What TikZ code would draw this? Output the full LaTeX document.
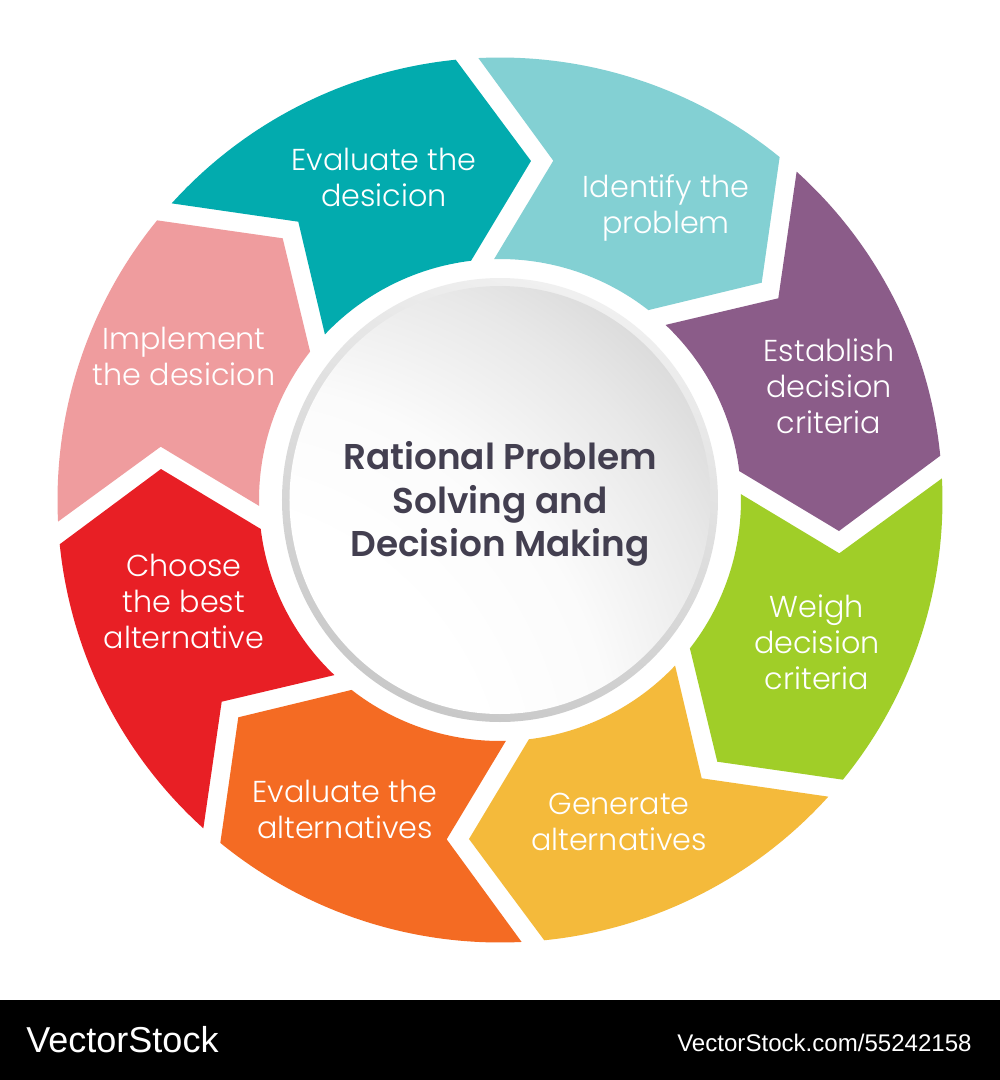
\documentclass[tikz,border=0pt]{standalone}
\usepackage{fontspec}
\setmainfont{Liberation Sans}
\newfontfamily\lightfont{Poppins Light}
\newfontfamily\titlefont{Poppins SemiBold}
\definecolor{tealseg}{HTML}{02ABAE}
\definecolor{paleseg}{HTML}{83D0D3}
\definecolor{purpleseg}{HTML}{8B5C89}
\definecolor{greenseg}{HTML}{A0CE28}
\definecolor{yellowseg}{HTML}{F4BA3B}
\definecolor{orangeseg}{HTML}{F46B23}
\definecolor{redseg}{HTML}{E81F25}
\definecolor{pinkseg}{HTML}{EF9C9E}
\definecolor{titleink}{HTML}{433F50}
\definecolor{ringlight}{HTML}{F0F0F0}
\definecolor{ringdark}{HTML}{C8C8C8}
\definecolor{discA}{HTML}{FBFBFB}
\definecolor{discB}{HTML}{E8E8E8}
\definecolor{discC}{HTML}{D5D5D5}
\definecolor{discD}{HTML}{C9C9C9}
\pgfdeclareradialshading{discshade}{\pgfpoint{-60bp}{-60bp}}{%
	color(0bp)=(white);
	color(37bp)=(white);
	color(46bp)=(discA);
	color(55bp)=(discB);
	color(62bp)=(discC);
	color(65bp)=(discD);
	color(100bp)=(discD)}
\tikzset{
	seglabel/.style={text=white,align=center,font=\lightfont\fontsize{17.2}{20.5}\selectfont},
	hublabel/.style={text=titleink,align=center,font=\titlefont\fontsize{20.4}{24.6}\selectfont},
	marklabel/.style={text=white,inner sep=0pt}
}
\begin{document}
\begin{tikzpicture}[x=.02cm,y=.02cm]
	\def\rout{442.5}
	\def\rin{241}
	\fill[white] (-500,-580) rectangle (500,500);
	\useasboundingbox (-500,-580) rectangle (500,500);

	\fill[tealseg] (137.9:\rout) arc[start angle=137.9,end angle=95.74,radius=\rout] -- (31,339) -- (96.9:\rin) arc[start angle=96.9,end angle=136.6,radius=\rin] -- (-201.7,278.3) -- cycle;
	\fill[redseg] (227.9:\rout) arc[start angle=227.9,end angle=185.74,radius=\rout] -- (-339,31) -- (186.9:\rin) arc[start angle=186.9,end angle=226.6,radius=\rin] -- (-278.3,-201.7) -- cycle;
	\fill[yellowseg] (317.9:\rout) arc[start angle=317.9,end angle=275.74,radius=\rout] -- (-31,-339) -- (276.9:\rin) arc[start angle=276.9,end angle=316.6,radius=\rin] -- (201.7,-278.3) -- cycle;
	\fill[purpleseg] (47.9:\rout) arc[start angle=47.9,end angle=5.74,radius=\rout] -- (339,-31) -- (6.9:\rin) arc[start angle=6.9,end angle=46.6,radius=\rin] -- (278.3,201.7) -- cycle;

	\fill[pinkseg] (140.8:\rout) arc[start angle=140.8,end angle=182.8,radius=\rout] -- (-339.3,53.3) -- (181.4:\rin) arc[start angle=181.4,end angle=142,radius=\rin] -- (-217.3,261.7) -- cycle;
	\fill[orangeseg] (230.8:\rout) arc[start angle=230.8,end angle=272.8,radius=\rout] -- (-53.3,-339.3) -- (271.4:\rin) arc[start angle=271.4,end angle=232,radius=\rin] -- (-261.7,-217.3) -- cycle;
	\fill[greenseg] (320.8:\rout) arc[start angle=320.8,end angle=362.8,radius=\rout] -- (339.3,-53.3) -- (361.4:\rin) arc[start angle=361.4,end angle=322,radius=\rin] -- (217.3,-261.7) -- cycle;
	\fill[paleseg] (50.8:\rout) arc[start angle=50.8,end angle=92.8,radius=\rout] -- (53.3,339.3) -- (91.4:\rin) arc[start angle=91.4,end angle=52,radius=\rin] -- (261.7,217.3) -- cycle;

	\shade[top color=ringlight,bottom color=ringdark,shading angle=-20] (0,0) ellipse (218 and 222);
	\shade[shading=discshade] (0,0) ellipse (210.5 and 214);

	\node[seglabel] (evaldecision) at (-116,323) {Evaluate the\\desicion};
	\node[seglabel] (identify) at (166,292) {Identify the\\problem};
	\node[seglabel] (establish) at (329,114) {Establish\\decision\\criteria};
	\node[seglabel] (weigh) at (317,-142) {Weigh\\decision\\criteria};
	\node[seglabel] (generate) at (119,-322) {Generate\\alternatives};
	\node[seglabel] (evalalt) at (-155,-309) {Evaluate the\\alternatives};
	\node[seglabel] (choose) at (-316,-101) {Choose\\the best\\alternative};
	\node[seglabel] (implement) at (-316,143.5) {Implement\\the desicion};
	\node[hublabel] (hub) at (0,-4) {Rational Problem\\Solving and\\Decision Making};

	\fill[black] (-500,-580) rectangle (500,-500);
	\node[marklabel,anchor=west,font=\fontsize{20.5}{24}\selectfont] (brand) at (-474,-540) {VectorStock};
	\node[marklabel,anchor=east,font=\fontsize{13.7}{16}\selectfont] (stockid) at (472,-543) {VectorStock.com/55242158};
\end{tikzpicture}
\end{document}
